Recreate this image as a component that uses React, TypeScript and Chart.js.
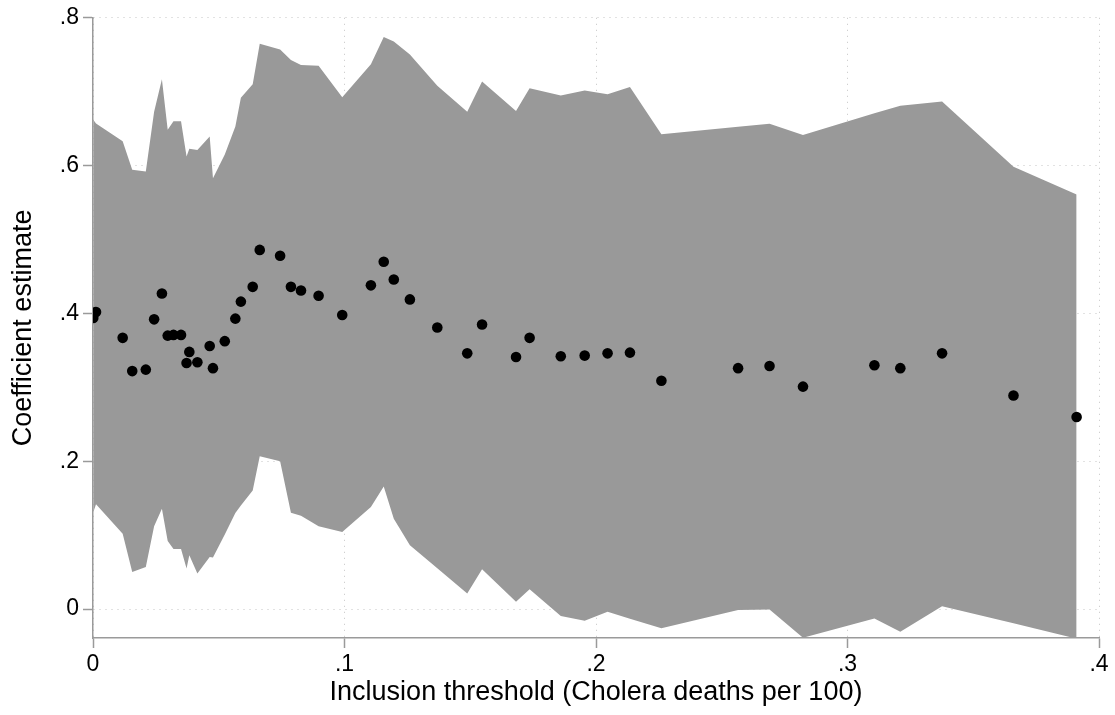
import React, { useEffect, useRef } from "react";
import { Chart, registerables } from "chart.js";

Chart.register(...registerables);

const thresholds = [
  0.0001, 0.0012, 0.0118, 0.0156, 0.021, 0.0243, 0.0274, 0.0297, 0.032, 0.035,
  0.0372, 0.0383, 0.0415, 0.0464, 0.0477, 0.0524, 0.0566, 0.0588, 0.0635, 0.0663,
  0.0744, 0.0787, 0.0827, 0.0897, 0.0991, 0.1105, 0.1156, 0.1196, 0.126, 0.1369,
  0.1488, 0.1547, 0.1682, 0.1736, 0.186, 0.1955, 0.2046, 0.2135, 0.226, 0.2565,
  0.269, 0.2823, 0.3107, 0.321, 0.3376, 0.366, 0.3911,
];

const estimates = [
  0.394, 0.402, 0.367, 0.322, 0.324, 0.392, 0.427, 0.37, 0.371, 0.371,
  0.333, 0.348, 0.334, 0.356, 0.326, 0.3625, 0.393, 0.416, 0.436, 0.486,
  0.478, 0.436, 0.431, 0.424, 0.398, 0.438, 0.47, 0.446, 0.419, 0.381,
  0.346, 0.385, 0.341, 0.367, 0.342, 0.343, 0.346, 0.347, 0.309, 0.326,
  0.329, 0.301, 0.33, 0.326, 0.346, 0.289, 0.26,
];

const upperCI = [
  0.662, 0.657, 0.633, 0.5945, 0.592, 0.673, 0.717, 0.6485, 0.66, 0.66,
  0.6125, 0.623, 0.621, 0.6395, 0.583, 0.615, 0.653, 0.692, 0.71, 0.765,
  0.757, 0.743, 0.736, 0.735, 0.6925, 0.737, 0.774, 0.768, 0.7505, 0.708,
  0.673, 0.7137, 0.674, 0.7047, 0.6948, 0.7015, 0.6966, 0.7065, 0.6426, 0.6526,
  0.6566, 0.6414, 0.671, 0.681, 0.6866, 0.5985, 0.5608,
];

const lowerCI = [
  0.131, 0.1417, 0.102, 0.0503, 0.057, 0.112, 0.1358, 0.092, 0.0814, 0.0814,
  0.055, 0.0728, 0.048, 0.0706, 0.0697, 0.101, 0.13, 0.14, 0.1605, 0.2069,
  0.2, 0.1304, 0.1264, 0.112, 0.1043, 0.138, 0.166, 0.1223, 0.0863, 0.0553,
  0.021, 0.054, 0.0099, 0.027, -0.0094, -0.0157, -0.0036, -0.013, -0.026, -0.0013,
  -0.0004, -0.0387, -0.0126, -0.0306, 0.004, -0.0193, -0.04,
];

const xTickValues = [0, 0.1, 0.2, 0.3, 0.4];
const xTickLabels = ["0", ".1", ".2", ".3", ".4"];
const yTickValues = [0, 0.2, 0.4, 0.6, 0.8];
const yTickLabels = ["0", ".2", ".4", ".6", ".8"];

const xTitle = "Inclusion threshold (Cholera deaths per 100)";
const yTitle = "Coefficient estimate";

const FONT = "'Liberation Sans', Arial, Helvetica, sans-serif";

export default function App() {
  const canvasRef = useRef<HTMLCanvasElement | null>(null);

  useEffect(() => {
    const canvas = canvasRef.current;
    if (!canvas) return;
    const pts = (ys: number[]) => thresholds.map((x, i) => ({ x, y: ys[i] }));

    const gridCommon = {
      color: "#c4c4c4",
      lineWidth: 1,
      drawTicks: true,
      tickLength: 10,
      tickColor: "#9a9a9a",
      tickWidth: 1.5,
      tickBorderDash: [],
    };
    const borderCommon = { display: true, color: "#9a9a9a", width: 1.5, dash: [1, 5] };

    const chart = new Chart(canvas, {
      type: "line",
      data: {
        datasets: [
          {
            label: "upper",
            data: pts(upperCI),
            borderColor: "rgba(0,0,0,0)",
            borderWidth: 0,
            backgroundColor: "#999999",
            pointRadius: 0,
            fill: "+1",
            tension: 0,
            order: 2,
          },
          {
            label: "lower",
            data: pts(lowerCI),
            borderColor: "rgba(0,0,0,0)",
            borderWidth: 0,
            backgroundColor: "#999999",
            pointRadius: 0,
            fill: false,
            tension: 0,
            order: 3,
          },
          {
            label: "estimate",
            data: pts(estimates),
            showLine: false,
            pointRadius: 5.3,
            pointBorderWidth: 0,
            pointBackgroundColor: "#000000",
            pointBorderColor: "#000000",
            backgroundColor: "#000000",
            borderColor: "#000000",
            fill: false,
            order: 0,
          },
        ],
      },
      options: {
        animation: false,
        responsive: true,
        maintainAspectRatio: false,
        devicePixelRatio: 1,
        layout: { padding: { top: 16, right: 16, left: 0, bottom: 0 } },
        plugins: {
          legend: { display: false },
          tooltip: { enabled: false },
        },
        scales: {
          x: {
            type: "linear",
            min: 0,
            max: 0.4,
            afterBuildTicks: (scale: any) => {
              scale.ticks = xTickValues.map((v) => ({ value: v }));
            },
            afterFit: (scale: any) => {
              scale.height = 77;
            },
            ticks: {
              autoSkip: false,
              maxRotation: 0,
              padding: 3,
              color: "#000000",
              font: { family: FONT, size: 23 },
              callback: (v: any) => {
                const i = xTickValues.findIndex((t) => Math.abs(t - Number(v)) < 1e-9);
                return i >= 0 ? xTickLabels[i] : "";
              },
            },
            grid: gridCommon,
            border: borderCommon,
            title: {
              display: true,
              text: xTitle,
              color: "#000000",
              font: { family: FONT, size: 27 },
              padding: { top: 0, bottom: 6 },
            },
          },
          y: {
            type: "linear",
            min: -0.0391,
            max: 0.8,
            afterBuildTicks: (scale: any) => {
              scale.ticks = yTickValues.map((v) => ({ value: v }));
            },
            afterFit: (scale: any) => {
              scale.width = 93;
            },
            ticks: {
              autoSkip: false,
              padding: 4,
              color: "#000000",
              font: { family: FONT, size: 23 },
              callback: (v: any) => {
                const i = yTickValues.findIndex((t) => Math.abs(t - Number(v)) < 1e-9);
                return i >= 0 ? yTickLabels[i] : "";
              },
            },
            grid: gridCommon,
            border: borderCommon,
            title: {
              display: true,
              text: yTitle,
              color: "#000000",
              font: { family: FONT, size: 27 },
              padding: { top: 7, bottom: 0 },
            },
          },
        },
      },
    } as any);

    return () => chart.destroy();
  }, []);

  return (
    <div style={{ position: "absolute", left: 0, top: 0, width: 1115, height: 715, background: "#ffffff" }}>
      <canvas ref={canvasRef} />
    </div>
  );
}
